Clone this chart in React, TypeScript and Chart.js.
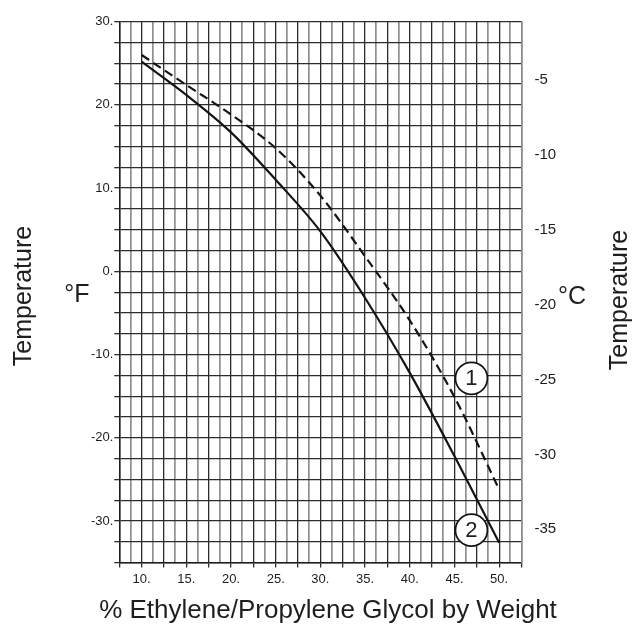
import { useEffect, useRef } from 'react';
import { Chart, registerables } from 'chart.js';

Chart.register(...registerables);

const FONT = '"Liberation Sans", Arial, sans-serif';
const INK = '#1e1e1e';

// % glycol by weight
const glycolPercent = [10, 15, 20, 25, 30, 35, 40, 45, 50];
// curve 1 (dashed) and curve 2 (solid), °F
const curve1 = [26.0, 22.4, 18.85, 14.8, 9.1, 1.8, -5.9, -15.1, -26.2];
const curve2 = [25.2, 21.2, 16.7, 11.0, 4.8, -3.2, -12.2, -22.2, -32.6];

// circled curve numbers
const markerX = [46.9, 46.9];
const markerY = [-12.85, -31.1];
const markerLabels = ['1', '2'];

// tick labels
const percentLabels = [10, 15, 20, 25, 30, 35, 40, 45, 50];
const fahrenheitLabels = [-30, -20, -10, 0, 10, 20, 30];
const celsiusLabels = [-35, -30, -25, -20, -15, -10, -5];

const F_MIN = -35;
const F_MAX = 30;
const toC = (f: number) => ((f - 32) * 5) / 9;

const isStep = (v: number, step: number) => Math.abs(v / step - Math.round(v / step)) < 1e-6;

const textPlugin = {
  id: 'glycolText',
  afterDatasetsDraw(chart: any) {
    const ctx = chart.ctx;
    const meta = chart.getDatasetMeta(2);
    ctx.save();
    ctx.fillStyle = INK;
    ctx.textAlign = 'center';
    ctx.textBaseline = 'middle';
    ctx.font = `22px ${FONT}`;
    meta.data.forEach((pt: any, i: number) => {
      ctx.fillText(markerLabels[i], pt.x, pt.y + 1);
    });
    ctx.restore();
  },
  afterDraw(chart: any) {
    const ctx = chart.ctx;
    ctx.save();
    ctx.fillStyle = INK;
    ctx.textAlign = 'center';
    ctx.textBaseline = 'middle';
    ctx.font = `25px ${FONT}`;

    // left title
    ctx.save();
    ctx.translate(24, 296);
    ctx.rotate(-Math.PI / 2);
    ctx.fillText('Temperature', 0, 0);
    ctx.restore();

    // right title
    ctx.save();
    ctx.translate(620, 300);
    ctx.rotate(-Math.PI / 2);
    ctx.fillText('Temperature', 0, 0);
    ctx.restore();

    ctx.fillText('°F', 77, 295);
    ctx.fillText('°C', 572, 297);

    ctx.font = `26px ${FONT}`;
    ctx.textBaseline = 'alphabetic';
    ctx.fillText('% Ethylene/Propylene Glycol by Weight', 328, 618);
    ctx.restore();
  },
};

export default function App() {
  const canvasRef = useRef<HTMLCanvasElement>(null);
  const chartRef = useRef<Chart | null>(null);

  useEffect(() => {
    if (!canvasRef.current) return;
    if (chartRef.current) chartRef.current.destroy();

    chartRef.current = new Chart(canvasRef.current, {
      type: 'scatter',
      data: {
        datasets: [
          {
            label: '1',
            data: glycolPercent.map((x, i) => ({ x, y: curve1[i] })),
            showLine: true,
            borderColor: '#141414',
            borderWidth: 2.2,
            borderDash: [9, 5],
            pointRadius: 0,
            cubicInterpolationMode: 'monotone',
          },
          {
            label: '2',
            data: glycolPercent.map((x, i) => ({ x, y: curve2[i] })),
            showLine: true,
            borderColor: '#141414',
            borderWidth: 2.2,
            pointRadius: 0,
            cubicInterpolationMode: 'monotone',
          },
          {
            label: 'markers',
            data: markerX.map((x, i) => ({ x, y: markerY[i] })),
            showLine: false,
            pointRadius: 16,
            pointBackgroundColor: '#ffffff',
            pointBorderColor: '#141414',
            pointBorderWidth: 1.7,
          },
        ],
      },
      options: {
        animation: false,
        responsive: true,
        maintainAspectRatio: false,
        layout: { padding: { top: 21.7, left: 0, right: 0, bottom: 0 } },
        plugins: {
          legend: { display: false },
          tooltip: { enabled: false },
        },
        scales: {
          x: {
            type: 'linear',
            min: 7.5,
            max: 52.5,
            afterFit: (s: any) => {
              s.height = 63.4;
            },
            ticks: {
              stepSize: 1.25,
              autoSkip: false,
              maxRotation: 0,
              padding: 4,
              color: INK,
              font: { family: FONT, size: 13 },
              callback: (v: any) => (percentLabels.includes(Number(v)) ? `${v}.` : ''),
            },
            grid: {
              color: (c: any) => (isStep(c.tick.value, 2.5) ? '#2c2c2c' : '#8f8f8f'),
              lineWidth: (c: any) => (isStep(c.tick.value, 2.5) ? 1.3 : 1.7),
              tickColor: (c: any) => (isStep(c.tick.value, 2.5) ? '#2c2c2c' : 'rgba(0,0,0,0)'),
              tickLength: 5,
            },
            border: { color: '#1e1e1e', width: 1.5 },
          },
          y: {
            type: 'linear',
            position: 'left',
            min: F_MIN,
            max: F_MAX,
            afterFit: (s: any) => {
              s.width = 119.3;
            },
            ticks: {
              stepSize: 2.5,
              autoSkip: false,
              padding: 1,
              color: INK,
              font: { family: FONT, size: 13 },
              callback: (v: any) => (fahrenheitLabels.includes(Number(v)) ? `${v}.` : ''),
            },
            grid: {
              color: '#2c2c2c',
              lineWidth: 1.3,
              tickLength: 5,
            },
            border: { color: '#1e1e1e', width: 1.5 },
          },
          y2: {
            type: 'linear',
            position: 'right',
            min: toC(F_MIN),
            max: toC(F_MAX),
            afterFit: (s: any) => {
              s.width = 113.5;
            },
            afterBuildTicks: (s: any) => {
              s.ticks = celsiusLabels.map((value) => ({ value }));
            },
            ticks: {
              padding: 5,
              color: INK,
              font: { family: FONT, size: 15 },
              callback: (v: any) => `${v}`,
            },
            grid: { display: false },
            border: { color: '#8a8a8a', width: 1.5 },
          },
        },
      },
      plugins: [textPlugin],
    } as any);

    return () => {
      if (chartRef.current) {
        chartRef.current.destroy();
        chartRef.current = null;
      }
    };
  }, []);

  return (
    <div style={{ position: 'absolute', left: 0, top: 0, width: 635, height: 626, background: '#fff' }}>
      <canvas ref={canvasRef}></canvas>
    </div>
  );
}
